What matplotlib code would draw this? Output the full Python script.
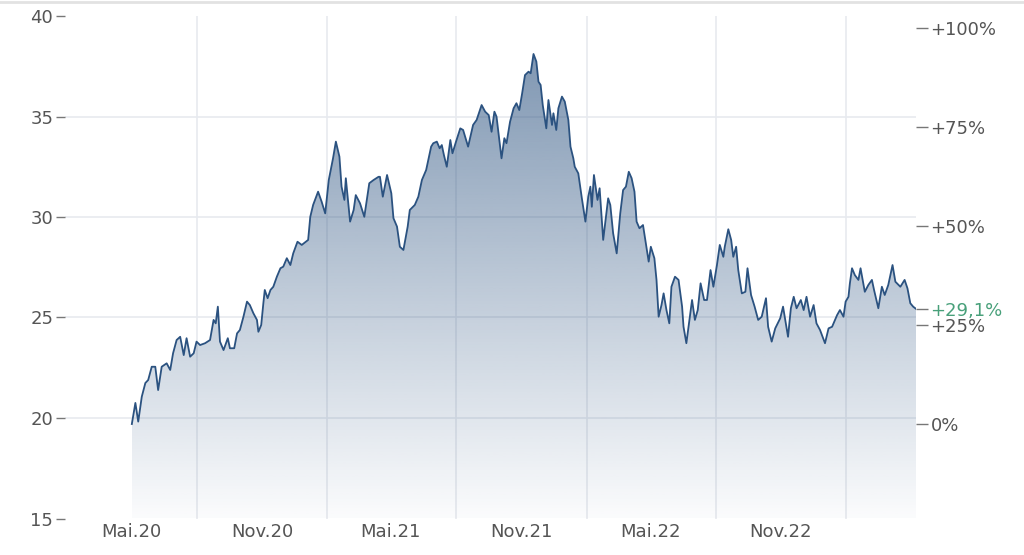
import numpy as np
import pandas as pd
import matplotlib
matplotlib.use("Agg")
import matplotlib.pyplot as plt
import matplotlib.dates as mdates

# ---------------- data ----------------
start_date = "2020-05-01"
days = [1, 6, 10, 15, 20, 24, 29, 34, 38, 43, 50, 55, 59, 64, 69, 74, 78, 83, 88, 92,
        97, 104, 111, 116, 119, 122, 125, 130, 136, 139, 145, 149, 153, 158, 163, 167, 172, 177, 179, 183,
        186, 188, 192, 196, 200, 205, 210, 214, 219, 224, 228, 234, 240, 249, 252, 256, 263, 268, 273, 278,
        284, 288, 293, 296, 300, 302, 308, 313, 316, 322, 328, 335, 341, 348, 350, 354, 360, 366, 369, 374,
        378, 383, 389, 392, 399, 404, 409, 415, 422, 425, 430, 434, 437, 440, 444, 449, 452, 457, 463, 467,
        474, 481, 486, 493, 498, 503, 507, 511, 514, 518, 521, 525, 528, 533, 538, 542, 546, 550, 554, 559,
        562, 566, 570, 573, 576, 579, 584, 587, 592, 594, 598, 601, 606, 610, 615, 618, 622, 624, 629, 634,
        639, 643, 646, 648, 651, 656, 659, 664, 671, 674, 678, 683, 688, 692, 696, 700, 704, 708, 711, 715,
        720, 724, 728, 731, 736, 739, 742, 746, 749, 753, 757, 760, 765, 770, 775, 777, 781, 784, 789, 793,
        797, 801, 806, 810, 815, 819, 824, 828, 833, 835, 840, 844, 847, 851, 854, 859, 864, 867, 872, 877,
        882, 887, 893, 896, 901, 906, 913, 917, 924, 928, 932, 936, 942, 946, 950, 955, 960, 964, 969, 976,
        981, 986, 993, 997, 1002, 1005, 1009, 1011, 1014, 1018, 1023, 1026, 1032, 1037, 1042, 1045, 1051, 1056, 1060, 1065,
        1071, 1075, 1082, 1088, 1092, 1096, 1100, 1104]
prices = [19.70, 20.75, 19.82, 21.06, 21.74, 21.89, 22.55, 22.55, 21.39, 22.55, 22.72, 22.39, 23.22, 23.88, 24.04, 23.13, 23.97, 23.05, 23.22, 23.80,
          23.63, 23.72, 23.88, 24.88, 24.71, 25.54, 23.80, 23.38, 23.97, 23.47, 23.47, 24.21, 24.38, 25.04, 25.79, 25.62, 25.21, 24.88, 24.29, 24.63,
          25.71, 26.37, 25.96, 26.37, 26.53, 27.03, 27.45, 27.53, 27.95, 27.61, 28.19, 28.77, 28.61, 28.86, 30.01, 30.60, 31.26, 30.76, 30.18, 31.84,
          32.92, 33.75, 33.00, 31.51, 30.85, 31.93, 29.77, 30.35, 31.09, 30.68, 30.01, 31.68, 31.84, 32.00, 32.00, 31.01, 32.09, 31.18, 29.94, 29.52,
          28.52, 28.36, 29.52, 30.35, 30.60, 31.01, 31.84, 32.34, 33.50, 33.67, 33.75, 33.42, 33.58, 33.08, 32.50, 33.83, 33.17, 33.75, 34.41, 34.33,
          33.50, 34.58, 34.83, 35.57, 35.24, 35.07, 34.24, 35.24, 34.99, 33.83, 32.92, 33.92, 33.67, 34.74, 35.41, 35.66, 35.32, 36.15, 37.06, 37.23,
          37.15, 38.11, 37.73, 36.73, 36.57, 35.57, 34.41, 35.82, 34.58, 35.16, 34.33, 35.41, 35.99, 35.74, 34.83, 33.50, 32.92, 32.50, 32.17, 30.93,
          29.77, 31.01, 31.51, 30.51, 32.09, 30.85, 31.43, 28.86, 30.93, 30.60, 29.19, 28.19, 30.18, 31.34, 31.51, 32.25, 31.93, 31.26, 29.77, 29.44,
          29.60, 28.69, 27.78, 28.52, 27.95, 26.87, 25.04, 25.62, 26.20, 25.37, 24.71, 26.53, 27.03, 26.87, 25.54, 24.54, 23.72, 24.54, 25.87, 24.88,
          25.37, 26.70, 25.87, 25.87, 27.36, 26.53, 27.61, 28.61, 28.02, 28.52, 29.39, 28.86, 28.02, 28.52, 27.36, 26.20, 26.28, 27.45, 26.12, 25.54,
          24.88, 25.04, 25.96, 24.54, 23.80, 24.46, 24.96, 25.54, 24.04, 25.46, 26.03, 25.46, 25.87, 25.37, 26.03, 25.04, 25.62, 24.71, 24.38, 23.72,
          24.46, 24.54, 25.12, 25.37, 25.04, 25.79, 26.03, 26.70, 27.45, 27.11, 26.87, 27.45, 26.28, 26.62, 26.87, 26.37, 25.46, 26.53, 26.12, 26.62,
          27.61, 26.78, 26.53, 26.87, 26.45, 25.71, 25.54, 25.43]
y_ticks_left = [15, 20, 25, 30, 35, 40]
pct_ticks = [0, 25, 50, 75, 100]
x_tick_dates = ["2020-05-01", "2020-11-01", "2021-05-01", "2021-11-01", "2022-05-01", "2022-11-01"]
x_tick_labels = ["Mai.20", "Nov.20", "Mai.21", "Nov.21", "Mai.22", "Nov.22"]
x_grid_dates = ["2020-08-01", "2021-02-01", "2021-08-01", "2022-02-01", "2022-08-01", "2023-02-01"]

# ---------------- styles ----------------
line_color = "#2b5280"
text_color = "#555555"
green = "#48a07a"
grid_color = "#e7eaef"
tick_color = "#777777"
plt.rcParams["font.family"] = ["DejaVu Sans"]

base = pd.Timestamp(start_date)
dates = base + pd.to_timedelta(days, unit="D")
xnum = mdates.date2num(dates.to_pydatetime())
p = np.array(prices)
ymin, ymax = 15, 40

fig = plt.figure(figsize=(10.24, 5.55), dpi=100)
ax = fig.add_axes([65 / 1024, 1 - 518.5 / 555, (916 - 65) / 1024, (518.5 - 16) / 555])
x0 = mdates.date2num(base - pd.Timedelta(days=93))
x1 = mdates.date2num(base + pd.Timedelta(days=1104))
ax.set_xlim(x0, x1)
ax.set_ylim(ymin, ymax)
for s in ax.spines.values():
    s.set_visible(False)

# grid
for yv in y_ticks_left[1:-1]:
    ax.axhline(yv, color=grid_color, lw=1.2, zorder=0)
for d in x_grid_dates:
    ax.axvline(mdates.date2num(pd.Timestamp(d)), color=grid_color, lw=1.2, zorder=0)

# gradient fill under the line
poly = ax.fill_between(xnum, p, ymin, facecolor="none", edgecolor="none")
top = p.max()
n = 256
yy = np.linspace(ymin, top, n)
alpha = 0.02 + 0.58 * (yy - ymin) / (top - ymin)
rgb = matplotlib.colors.to_rgb(line_color)
img = np.zeros((n, 1, 4))
img[:, 0, 0], img[:, 0, 1], img[:, 0, 2] = rgb
img[:, 0, 3] = alpha
im = ax.imshow(img, extent=[xnum[0], xnum[-1], ymin, top], origin="lower",
               aspect="auto", zorder=1, interpolation="bilinear")
path = poly.get_paths()[0]
im.set_clip_path(path, transform=ax.transData)
ax.plot(xnum, p, color=line_color, lw=1.3, zorder=3, solid_joinstyle="round")

# left axis
ax.set_yticks(y_ticks_left)
ax.set_yticklabels([str(v) for v in y_ticks_left])
ax.tick_params(axis="y", direction="out", length=6.5, width=1, color=tick_color,
               labelcolor=text_color, labelsize=13, pad=2)
# x axis
ax.set_xticks([mdates.date2num(pd.Timestamp(d)) for d in x_tick_dates])
ax.set_xticklabels(x_tick_labels)
ax.tick_params(axis="x", length=0, labelcolor=text_color, labelsize=13, pad=3)

# right axis (performance)
first, last = p[0], p[-1]
ax2 = ax.twinx()
ax2.set_ylim(ymin, ymax)
for s in ax2.spines.values():
    s.set_visible(False)
last_pct = (last / first - 1) * 100
pos = [first * (1 + q / 100) for q in pct_ticks] + [last]
labs = [("+%d%%" % q) if q > 0 else "0%" for q in pct_ticks] + \
       [("+%.1f%%" % last_pct).replace(".", ",")]
ax2.set_yticks(pos)
ax2.set_yticklabels(labs)
ax2.tick_params(axis="y", direction="out", length=8.5, width=1, color=tick_color,
                labelcolor=text_color, labelsize=13, pad=2)
ax2.get_yticklabels()[-1].set_color(green)

# thin separator line at top of figure
fig.add_artist(plt.Line2D([0, 1], [1 - 2 / 555, 1 - 2 / 555], color="#e2e2e2", lw=2,
                          transform=fig.transFigure))

fig.savefig("out.png", dpi=100, facecolor="white")
